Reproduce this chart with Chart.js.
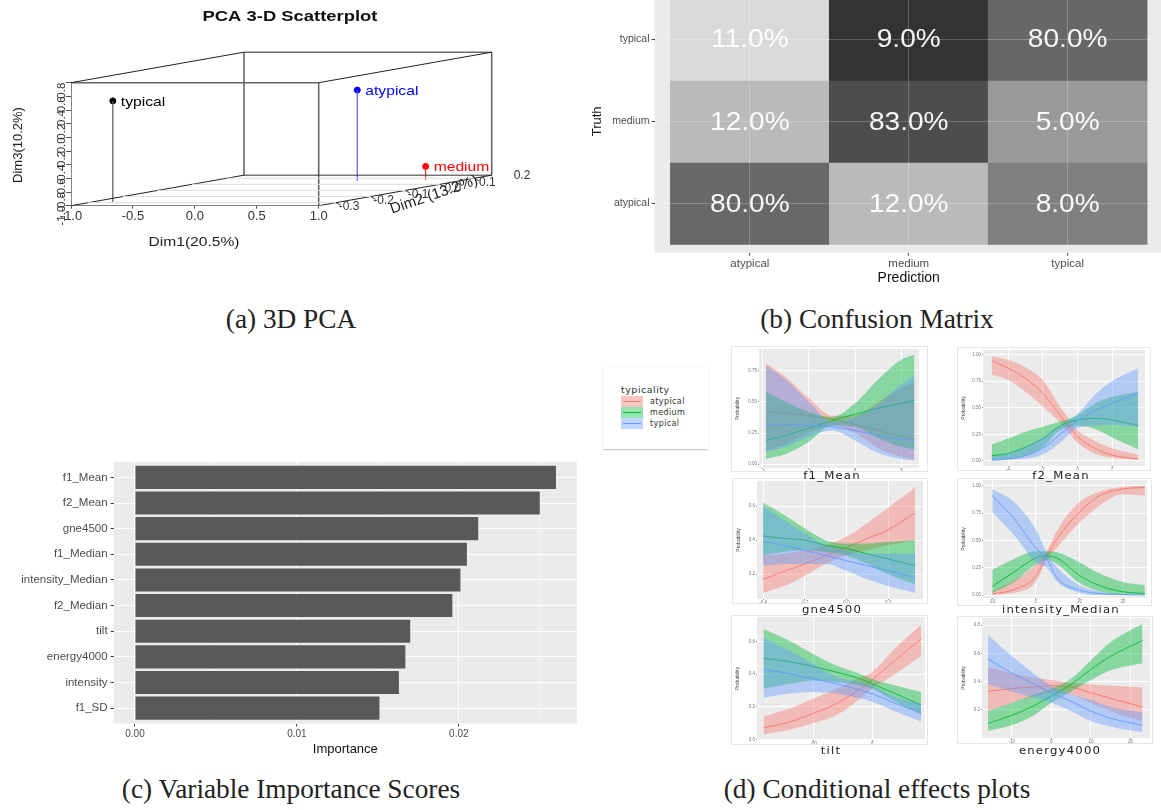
<!DOCTYPE html>
<html>
<head>
<meta charset="utf-8">
<title>PCA, confusion matrix, importance and conditional effects</title>
<script src="https://cdn.jsdelivr.net/npm/chart.js@4"></script>
<style>
  html, body { margin: 0; padding: 0; background: #fff; }
  body { position: relative; width: 1161px; height: 810px; overflow: hidden; }
  canvas { position: absolute; }
  .card { box-shadow: 0 0 0 1px #e6e6e6; filter: blur(0.5px); }
  .caption { position: absolute; transform: translateX(-50%); white-space: nowrap;
             font: 27.3px "Liberation Serif", serif; color: #222; }
  .facet { position: absolute; transform: translateX(-50%) scaleX(1.17); white-space: nowrap;
           font: 10px "DejaVu Sans", sans-serif; letter-spacing: 1px; color: #222; }
  #legend { position: absolute; left: 603px; top: 368px; width: 105px; height: 81px;
            box-shadow: 0 1px 1px #ccc, 0 0 1px #ddd; font: 8px "DejaVu Sans", sans-serif; color: #333; }
  #legend b { position: absolute; left: 18px; top: 16px; font-size: 9.5px; font-weight: normal; letter-spacing: .5px; }
  #legend .key { position: absolute; left: 18px; width: 22px; height: 11px; }
  #legend .key i { position: absolute; left: 2px; right: 2px; top: 5px; height: 1px; }
  #legend span { position: absolute; left: 47px; letter-spacing: .4px; }
</style>
</head>
<body>
<canvas id="pca"></canvas>
<canvas id="confusion"></canvas>
<canvas id="importance"></canvas>
<canvas id="effF1Mean" class="card"></canvas>
<canvas id="effF2Mean" class="card"></canvas>
<canvas id="effGne" class="card"></canvas>
<canvas id="effIntensity" class="card"></canvas>
<canvas id="effTilt" class="card"></canvas>
<canvas id="effEnergy" class="card"></canvas>

<div id="legend">
  <b>typicality</b>
  <div class="key" style="top:28px;background:#f9c5c1"><i style="background:#f8766d"></i></div><span style="top:29px">atypical</span>
  <div class="key" style="top:39px;background:#99e3ae"><i style="background:#00ba38"></i></div><span style="top:40px">medium</span>
  <div class="key" style="top:50px;background:#bfd7ff"><i style="background:#619cff"></i></div><span style="top:51px">typical</span>
</div>

<div class="facet" style="left:832px;top:470px">f1_Mean</div>
<div class="facet" style="left:1061px;top:470px">f2_Mean</div>
<div class="facet" style="left:832px;top:604px">gne4500</div>
<div class="facet" style="left:1061px;top:604px">intensity_Median</div>
<div class="facet" style="left:831px;top:745px">tilt</div>
<div class="facet" style="left:1060px;top:745px">energy4000</div>

<div class="caption" style="left:291px;top:304px">(a) 3D PCA</div>
<div class="caption" style="left:877px;top:304px">(b) Confusion Matrix</div>
<div class="caption" style="left:291px;top:774px">(c) Variable Importance Scores</div>
<div class="caption" style="left:877px;top:774px">(d) Conditional effects plots</div>

<script>
// (a) PCA, one value per class
const pcaClasses = ['typical', 'atypical', 'medium'];
const pcaDim1 = [-0.83, 0.18, 0.69];
const pcaDim2 = [-0.29, 0.055, 0.07];
const pcaDim3 = [0.48, 0.33, -0.8];
const pcaDim1Ticks = [-1, -0.5, 0, 0.5, 1];
const pcaDim2Ticks = [-0.3, -0.2, -0.1, 0, 0.1, 0.2];
const pcaDim3Ticks = [-1, -0.8, -0.6, -0.4, -0.2, 0, 0.2, 0.4, 0.6, 0.8];

// (b) confusion matrix, rows go atypical, medium, typical from the bottom
const matrixLabels = ['atypical', 'medium', 'typical'];
const matrixPercent = [
  [80, 12, 8],
  [12, 83, 5],
  [11, 9, 80]
];
const matrixGreys = [
  ['#686868', '#bababa', '#808080'],
  ['#bababa', '#4d4d4d', '#999999'],
  ['#d9d9d9', '#333333', '#676767']
];

// (c) importance
const importanceNames = ['f1_Mean', 'f2_Mean', 'gne4500', 'f1_Median', 'intensity_Median', 'f2_Median', 'tilt', 'energy4000', 'intensity', 'f1_SD'];
const importanceValues = [0.026, 0.025, 0.0212, 0.0205, 0.0201, 0.0196, 0.017, 0.0167, 0.0163, 0.0151];

// (d) conditional effects, each series is [lower, mean, upper]
const f1MeanX = [-3.87, -3, -2, -1, 0, 1, 2, 2.58];
const f1MeanAtypical = [[.10, .16, .25, .31, .25, .13, .06, .04], [.42, .41, .39, .36, .32, .27, .22, .20], [.81, .70, .53, .39, .39, .50, .61, .66]];
const f1MeanMedium = [[.04, .08, .18, .31, .30, .21, .14, .12], [.19, .23, .29, .35, .40, .45, .49, .51], [.58, .50, .42, .38, .49, .68, .84, .88]];
const f1MeanTypical = [[.10, .14, .22, .27, .19, .09, .04, .03], [.32, .32, .31, .30, .27, .23, .20, .19], [.79, .68, .50, .34, .38, .48, .64, .71]];

const f2MeanX = [-4.95, -4, -3, -2, -1, 0, 1, 2, 3.5];
const f2MeanAtypical = [[.81, .76, .65, .51, .36, .17, .07, .03, .01], [.94, .87, .775, .635, .43, .23, .12, .055, .02], [.98, .95, .88, .76, .51, .29, .19, .12, .06]];
const f2MeanMedium = [[.01, .02, .05, .13, .29, .33, .30, .22, .11], [.05, .07, .13, .21, .33, .385, .40, .385, .33], [.155, .21, .275, .32, .37, .43, .54, .60, .65]];
const f2MeanTypical = [[0, .01, .02, .06, .17, .31, .33, .34, .32], [.01, .02, .05, .12, .25, .38, .47, .54, .64], [.04, .07, .13, .22, .33, .44, .62, .75, .87]];

const gneX = [-.4, -.3, -.2, -.1, 0, .1, .2, .33];
const gneAtypical = [[.09, .13, .19, .26, .31, .34, .37, .40], [.17, .216, .26, .31, .357, .41, .46, .56], [.31, .32, .34, .37, .42, .50, .59, .71]];
const gneMedium = [[.31, .33, .34, .33, .31, .26, .20, .14], [.425, .41, .40, .37, .35, .32, .29, .25], [.62, .55, .47, .40, .38, .38, .39, .40]];
const gneTypical = [[.25, .26, .26, .26, .22, .17, .13, .09], [.395, .37, .34, .31, .28, .25, .22, .18], [.60, .52, .44, .37, .34, .32, .32, .32]];

const intensityX = [-10, -5, 0, 2.5, 5, 10, 15, 20, 25];
const intensityAtypical = [[0, .02, .12, .32, .44, .66, .83, .92, .91], [.01, .05, .17, .36, .52, .76, .915, .97, .985], [.04, .13, .28, .40, .60, .85, .95, .99, 1]];
const intensityMedium = [[.02, .12, .28, .32, .28, .11, .03, 0, 0], [.08, .21, .34, .357, .335, .18, .08, .03, .015], [.23, .33, .40, .40, .39, .30, .19, .12, .09]];
const intensityTypical = [[.76, .55, .30, .25, .12, .02, 0, 0, 0], [.91, .70, .43, .33, .15, .045, .012, .003, 0], [.97, .85, .60, .39, .25, .09, .03, .01, .005]];

const tiltX = [-93, -70, -50, -30, -10, 0, 20, 42];
const tiltAtypical = [[.03, .06, .10, .15, .25, .31, .40, .51], [.07, .108, .16, .22, .31, .363, .485, .614], [.14, .19, .25, .31, .38, .41, .56, .70]];
const tiltMedium = [[.31, .34, .36, .35, .33, .31, .23, .15], [.495, .475, .445, .41, .37, .34, .28, .21], [.675, .60, .52, .45, .40, .37, .33, .29]];
const tiltTypical = [[.255, .28, .29, .28, .25, .23, .17, .11], [.43, .40, .37, .34, .30, .28, .22, .165], [.62, .54, .46, .38, .35, .33, .26, .22]];

const energyX = [-16, -10, -5, 0, 5, 10, 15, 23];
const energyAtypical = [[.19, .25, .29, .32, .31, .25, .19, .12], [.33, .35, .36, .37, .36, .32, .28, .22], [.50, .46, .43, .41, .39, .38, .37, .36]];
const energyMedium = [[.05, .09, .15, .25, .33, .41, .48, .53], [.103, .16, .22, .297, .38, .486, .58, .69], [.19, .25, .30, .35, .42, .55, .68, .81]];
const energyTypical = [[.38, .33, .29, .25, .19, .12, .08, .04], [.56, .46, .39, .32, .26, .19, .14, .09], [.73, .58, .47, .37, .31, .27, .22, .18]];

Chart.defaults.animation = false;
Chart.defaults.responsive = false;
Chart.defaults.font.family = '"Liberation Sans", Arial, sans-serif';
Chart.defaults.plugins.legend.display = false;
Chart.defaults.plugins.tooltip.enabled = false;

const GGBG = '#ebebeb';

function place(id, left, top, width, height) {
  const c = document.getElementById(id);
  c.width = width;
  c.height = height;
  c.style.left = left + 'px';
  c.style.top = top + 'px';
  return c;
}
function setTicks(values) {
  return axis => { axis.ticks = values.map(v => ({ value: v })); };
}
// fix an axis band to an exact size and drop the room chart.js keeps for tick labels,
// so the plot area lands exactly where it should
function fixHeight(h) {
  return s => { s.height = h; s.paddingLeft = 0; s.paddingRight = 0; };
}
function fixWidth(w) {
  return s => { s.width = w; s.paddingTop = 0; s.paddingBottom = 0; };
}
// grey plot rectangle behind the datasets
const plotBackground = {
  id: 'plotBackground',
  beforeDraw(chart) {
    const a = chart.chartArea;
    chart.ctx.save();
    chart.ctx.fillStyle = GGBG;
    chart.ctx.fillRect(a.left, a.top, a.width, a.height);
    chart.ctx.restore();
  }
};
// sx widens the text, the reference figure is stretched sideways
function drawText(ctx, text, x, y, font, color, angle, sx) {
  ctx.save();
  ctx.translate(x, y);
  if (angle) ctx.rotate(angle * Math.PI / 180);
  if (sx) ctx.scale(sx, 1);
  ctx.font = font;
  ctx.fillStyle = color;
  ctx.textAlign = 'center';
  ctx.textBaseline = 'middle';
  ctx.fillText(text, 0, 0);
  ctx.restore();
}

// ---------- (a) 3D PCA, projected on to the chart plane ----------
const dim2Min = -0.35;
const depthX = 2.794;
const depthY = 0.893;
function project(d1, d2, d3) {
  return { x: d1 + (d2 - dim2Min) * depthX, y: d3 + (d2 - dim2Min) * depthY };
}
function segment(a, b, color, width) {
  return { type: 'line', data: [a, b], borderColor: color, borderWidth: width, pointRadius: 0, tension: 0 };
}
const back = 0.15;
const boxSets = [
  // floor grid
  ...pcaDim2Ticks.slice(0, 5).map(d => segment(project(-1, d, -1), project(1, d, -1), '#dddddd', 1)),
  // rear and depth edges
  segment(project(-1, back, 0.8), project(1, back, 0.8), '#222', 1),
  segment(project(-1, dim2Min, 0.8), project(-1, back, 0.8), '#222', 1),
  segment(project(1, dim2Min, 0.8), project(1, back, 0.8), '#222', 1),
  segment(project(-1, dim2Min, -1), project(-1, back, -1), '#222', 1),
  segment(project(1, dim2Min, -1), project(1, back, -1), '#222', 1),
  segment(project(-1, back, -1), project(1, back, -1), '#333', 1),
  segment(project(-1, back, -1), project(-1, back, 0.8), '#666', 1.6),
  segment(project(1, back, -1), project(1, back, 0.8), '#666', 1.6),
  // front face
  segment(project(-1, dim2Min, 0.8), project(1, dim2Min, 0.8), '#666', 1.6),
  segment(project(-1, dim2Min, -1), project(1, dim2Min, -1), '#555', 1.6),
  segment(project(-1, dim2Min, -1), project(-1, dim2Min, 0.8), '#666', 1.6),
  segment(project(1, dim2Min, -1), project(1, dim2Min, 0.8), '#666', 1.6),
  // ticks along the depth axis
  ...pcaDim2Ticks.slice(0, 5).map(d => segment(project(1, d, -1), project(1.04, d, -1.04), '#444', 1))
];
const pcaColors = ['#000000', '#0000ff', '#ff0000'];
const stemColors = ['#555555', '#5555ff', '#ff3333'];
const pcaSets = pcaClasses.flatMap((name, i) => [
  segment(project(pcaDim1[i], pcaDim2[i], -1), project(pcaDim1[i], pcaDim2[i], pcaDim3[i]), stemColors[i], 1.2),
  {
    type: 'scatter', label: name, data: [project(pcaDim1[i], pcaDim2[i], pcaDim3[i])],
    backgroundColor: pcaColors[i], borderColor: pcaColors[i], pointRadius: 3
  }
]);
const pcaText = {
  id: 'pcaText',
  afterDraw(chart) {
    const { ctx, scales } = chart;
    drawText(ctx, 'PCA 3-D Scatterplot', 290, 17, 'bold 14.5px "Liberation Sans"', '#111', 0, 1.27);
    drawText(ctx, 'Dim1(20.5%)', 194, 242, '13px "Liberation Sans"', '#222', 0, 1.2);
    drawText(ctx, 'Dim3(10.2%)', 18, 145, '13px "Liberation Sans"', '#222', -90);
    drawText(ctx, 'Dim2 (13.2%)', 434, 195, '15px "Liberation Sans"', '#222', -19);
    pcaDim2Ticks.forEach(d => {
      const p = project(1, d, -1);
      drawText(ctx, d.toFixed(1), scales.x.getPixelForValue(p.x) + 13, scales.y.getPixelForValue(p.y) + 4, '12px "Liberation Sans"', '#333');
    });
    pcaClasses.forEach((name, i) => {
      const p = project(pcaDim1[i], pcaDim2[i], pcaDim3[i]);
      ctx.save();
      ctx.translate(scales.x.getPixelForValue(p.x) + 8, scales.y.getPixelForValue(p.y) + 1);
      ctx.scale(1.16, 1);
      ctx.font = '13.5px "Liberation Sans"';
      ctx.fillStyle = pcaColors[i];
      ctx.textBaseline = 'middle';
      ctx.fillText(name, 0, 0);
      ctx.restore();
    });
  }
};
new Chart(place('pca', 0, 0, 540, 260), {
  data: { datasets: boxSets.concat(pcaSets) },
  plugins: [pcaText],
  options: {
    layout: { padding: 0, autoPadding: false },
    scales: {
      x: {
        type: 'linear', min: -1, max: 2.787,
        afterBuildTicks: setTicks(pcaDim1Ticks),
        afterFit: fixHeight(54.3),
        border: { display: false },
        grid: { drawOnChartArea: false, tickLength: 3, color: '#555' },
        ticks: { autoSkip: false, maxRotation: 0, padding: 0, color: '#333', font: { size: 13 }, callback: v => v.toFixed(1) }
      },
      y: {
        type: 'linear', min: -1, max: 2.01,
        afterBuildTicks: setTicks(pcaDim3Ticks),
        afterFit: fixWidth(71),
        border: { display: false },
        grid: { drawOnChartArea: false, tickLength: 5, color: '#555' },
        ticks: { autoSkip: false, minRotation: 90, maxRotation: 90, padding: 4, color: '#333', font: { size: 11.5 }, callback: v => v.toFixed(1) }
      }
    }
  }
});

// ---------- (b) confusion matrix ----------
const matrixCells = [];
const matrixColors = [];
matrixPercent.forEach((row, r) => row.forEach((v, c) => {
  matrixCells.push({ x: c + 1, y: [r + 0.5, r + 1.5], pct: v });
  matrixColors.push(matrixGreys[r][c]);
}));
const matrixText = {
  id: 'matrixText',
  afterDraw(chart) {
    const { ctx, scales } = chart;
    matrixCells.forEach(cell => {
      drawText(ctx, cell.pct.toFixed(1) + '%', scales.x.getPixelForValue(cell.x), scales.y.getPixelForValue(cell.y[0] + 0.5) + 1, '26px "Liberation Sans"', 'rgba(255,255,255,.95)', 0, 1.08);
    });
  }
};
new Chart(place('confusion', 580, -10, 583, 297), {
  type: 'bar',
  data: { datasets: [{ data: matrixCells, backgroundColor: matrixColors, categoryPercentage: 1, barPercentage: 1 }] },
  plugins: [plotBackground, matrixText],
  options: {
    scales: {
      x: {
        type: 'linear', min: 0.4, max: 3.6, offset: false,
        afterBuildTicks: setTicks([1, 2, 3]),
        afterFit: fixHeight(34.3),
        border: { display: false },
        grid: { offset: false, z: 1, color: 'rgba(255,255,255,.22)', tickColor: '#444', tickLength: 3 },
        ticks: { autoSkip: false, maxRotation: 0, color: '#4d4d4d', font: { size: 11.5 }, padding: 1, callback: v => matrixLabels[v - 1] },
        title: { display: true, text: 'Prediction', color: '#111', font: { size: 14 }, padding: 0 }
      },
      y: {
        type: 'linear', min: 0.4, max: 3.6,
        afterBuildTicks: setTicks([1, 2, 3]),
        afterFit: fixWidth(74.5),
        border: { display: false },
        grid: { z: 1, color: 'rgba(255,255,255,.22)', tickColor: '#444', tickLength: 3 },
        ticks: { autoSkip: false, color: '#4d4d4d', font: { size: 10.5 }, padding: 2, callback: v => matrixLabels[v - 1] },
        title: { display: true, text: 'Truth', color: '#111', font: { size: 13 }, padding: { top: 10, bottom: 0 } }
      }
    }
  }
});

// ---------- (c) variable importance ----------
const importanceMinor = [0.005, 0.015, 0.025];
new Chart(place('importance', 0, 450, 590, 310), {
  type: 'bar',
  data: {
    datasets: [{
      data: importanceValues.map((v, i) => ({ x: v, y: i + 1 })),
      backgroundColor: '#595959', categoryPercentage: 1, barPercentage: 0.9
    }]
  },
  plugins: [plotBackground],
  options: {
    indexAxis: 'y',
    layout: { padding: { top: 12, right: 13 } },
    scales: {
      x: {
        type: 'linear', min: -0.00132, max: 0.0273,
        afterBuildTicks: setTicks([0, 0.005, 0.01, 0.015, 0.02, 0.025]),
        afterFit: fixHeight(36.5),
        border: { display: false },
        grid: {
          color: '#fff', tickLength: 3,
          tickColor: c => importanceMinor.includes(c.tick.value) ? 'transparent' : '#444',
          lineWidth: c => importanceMinor.includes(c.tick.value) ? 0.5 : 1
        },
        ticks: {
          autoSkip: false, maxRotation: 0, color: '#4d4d4d', font: { size: 10 }, padding: 2,
          callback: v => importanceMinor.includes(v) ? '' : v.toFixed(2)
        },
        title: { display: true, text: 'Importance', color: '#111', font: { size: 13 }, padding: { top: 0, bottom: 3 } }
      },
      y: {
        type: 'linear', reverse: true, min: 0.4, max: 10.6, offset: false,
        afterBuildTicks: setTicks(importanceNames.map((n, i) => i + 1)),
        afterFit: fixWidth(113.6),
        border: { display: false },
        grid: { offset: false, color: '#fff', tickColor: '#444', tickLength: 3 },
        ticks: { autoSkip: false, color: '#4d4d4d', font: { size: 11.5 }, padding: 3, callback: v => importanceNames[v - 1] }
      }
    }
  }
});

// ---------- (d) conditional effects ----------
const bandColors = ['rgba(248,118,109,.42)', 'rgba(0,186,56,.42)', 'rgba(97,156,255,.42)'];
const lineColors = ['#f8766d', '#00ba38', '#619cff'];

function effectChart(id, box, plot, xs, series, xRange, yRange, xTicks, yTicks, xFmt, yFmt) {
  const datasets = [];
  // chart.js paints the last dataset first, so blue goes in first to end up on top
  [2, 1, 0].forEach(i => {
    const s = series[i];
    const pts = row => row.map((v, k) => ({ x: xs[k], y: v }));
    const curve = { pointRadius: 0, cubicInterpolationMode: 'monotone' };
    datasets.push({ ...curve, data: pts(s[0]), borderWidth: 0, fill: false });
    datasets.push({ ...curve, data: pts(s[2]), borderWidth: 0, fill: '-1', backgroundColor: bandColors[i] });
    datasets.push({ ...curve, data: pts(s[1]), borderColor: lineColors[i], borderWidth: 0.9, fill: false });
  });
  new Chart(place(id, box.left, box.top, box.right - box.left, box.bottom - box.top), {
    type: 'line',
    data: { datasets },
    plugins: [plotBackground],
    options: {
      layout: { autoPadding: false, padding: { top: plot.top - box.top, right: box.right - plot.right } },
      scales: {
        x: {
          type: 'linear', min: xRange[0], max: xRange[1],
          afterBuildTicks: setTicks(xTicks),
          afterFit: fixHeight(box.bottom - plot.bottom),
          border: { display: false },
          grid: { color: '#fff', tickColor: '#888', tickLength: 1 },
          ticks: { autoSkip: false, maxRotation: 0, color: '#777', font: { size: 4.5 }, padding: 0, callback: xFmt }
        },
        y: {
          type: 'linear', min: yRange[0], max: yRange[1],
          afterBuildTicks: setTicks(yTicks),
          afterFit: fixWidth(plot.left - box.left),
          border: { display: false },
          grid: { color: '#fff', tickColor: '#888', tickLength: 1 },
          ticks: { autoSkip: false, color: '#777', font: { size: 4.5 }, padding: 1, callback: yFmt },
          title: { display: true, text: 'Probability', color: '#444', font: { size: 5 }, padding: { top: 3, bottom: 0 } }
        }
      }
    }
  });
}
const fmt0 = v => String(v);
const fmt1 = v => v.toFixed(1);
const fmt2 = v => v.toFixed(2);

effectChart('effF1Mean', { left: 732, top: 347, right: 927, bottom: 471 }, { left: 759, top: 349, right: 919, bottom: 468 },
  f1MeanX, [f1MeanAtypical, f1MeanMedium, f1MeanTypical], [-4.17, 2.78], [-0.032, 0.927], [-4, -2, 0, 2], [0, .25, .5, .75], fmt0, fmt2);
effectChart('effF2Mean', { left: 958, top: 348, right: 1150, bottom: 470 }, { left: 983, top: 350, right: 1145, bottom: 466 },
  f2MeanX, [f2MeanAtypical, f2MeanMedium, f2MeanTypical], [-5.45, 3.9], [-0.047, 1.041], [-4, -2, 0, 2], [0, .25, .5, .75, 1], fmt0, fmt2);
effectChart('effGne', { left: 733, top: 479, right: 927, bottom: 603 }, { left: 757, top: 481, right: 923, bottom: 599 },
  gneX, [gneAtypical, gneMedium, gneTypical], [-0.429, 0.368], [0.054, 0.748], [-.4, -.2, 0, .2], [.2, .4, .6], fmt1, fmt1);
effectChart('effIntensity', { left: 958, top: 479, right: 1151, bottom: 605 }, { left: 983, top: 480, right: 1147, bottom: 598 },
  intensityX, [intensityAtypical, intensityMedium, intensityTypical], [-12.1, 25.5], [-0.027, 1.052], [-10, 0, 10, 20], [0, .25, .5, .75, 1], fmt0, fmt2);
effectChart('effTilt', { left: 732, top: 616, right: 927, bottom: 744 }, { left: 757, top: 617, right: 925, bottom: 740 },
  tiltX, [tiltAtypical, tiltMedium, tiltTypical], [-98.6, 45.4], [-0.004, 0.749], [-50, 0], [0, .2, .4, .6], fmt0, fmt1);
effectChart('effEnergy', { left: 958, top: 617, right: 1152, bottom: 743 }, { left: 982, top: 618, right: 1150, bottom: 738 },
  energyX, [energyAtypical, energyMedium, energyTypical], [-17.5, 24.9], [0.00, 0.85], [-10, 0, 10, 20], [.2, .4, .6, .8], fmt0, fmt1);
</script>
</body>
</html>
